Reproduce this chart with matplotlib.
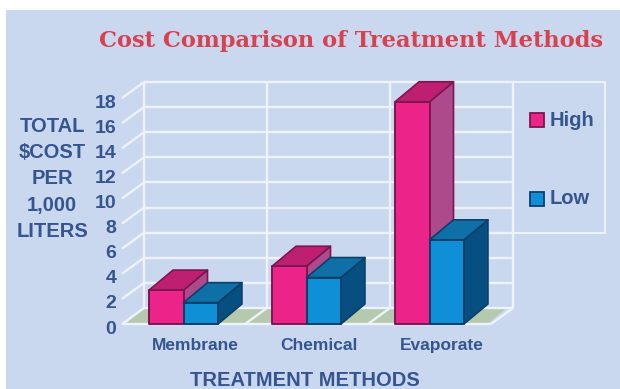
import matplotlib
matplotlib.use("Agg")
import matplotlib.pyplot as plt
from matplotlib.patches import Polygon, Rectangle
from matplotlib.transforms import ScaledTranslation

# Chart data
categories = ["Membrane", "Chemical", "Evaporate"]
high_values = [2.7, 4.6, 17.7]
low_values = [1.7, 3.7, 6.7]
y_ticks = [0, 2, 4, 6, 8, 10, 12, 14, 16, 18]
y_title_lines = ["TOTAL", "$COST", "PER", "1,000", "LITERS"]
series_names = ["High", "Low"]

W, H = 620, 389
BG = "#c9d8ef"
TEXT = "#35558f"
GRID = "#eef3fb"
FLOOR = "#b4c9ad"
HIGH = dict(front="#ec2489", top="#bf1f70", side="#ad4a8b", edge="#7c1650")
LOW = dict(front="#0f8fd6", top="#0f70a8", side="#064f80", edge="#0a3f68")
SANS = "Liberation Sans"

fig = plt.figure(figsize=(W / 100, H / 100), dpi=100, facecolor="white")


def px_box(x0, y0, x1, y1):
    return [x0 / W, 1 - y1 / H, (x1 - x0) / W, (y1 - y0) / H]


fig.patches.append(Rectangle((6 / W, 0), 1, 1 - 10 / H, transform=fig.transFigure,
                             facecolor=BG, edgecolor="none", zorder=-5))

# The axes frame is the front plane of the 3-D box
ax = fig.add_axes(px_box(122, 98, 491, 324))
ax.set_xlim(0, 3)
ax.set_ylim(0, 18)
ax.patch.set_alpha(0)
ax.set_zorder(2)
for s in ax.spines.values():
    s.set_visible(False)

WALL_DX, WALL_DY = 22 / 123, 16 / 12.55
BAR_DX, BAR_DY = 24 / 123, 20 / 12.55
BAR_W = 0.28
LABEL_SHIFT = 0.1


def poly(pts, face, edge="none", lw=0, z=1):
    ax.add_patch(Polygon(pts, closed=True, facecolor=face, edgecolor=edge,
                         linewidth=lw, joinstyle="round", clip_on=False, zorder=z))


def line(xs, ys, z=2, lw=1.7):
    ax.plot(xs, ys, color=GRID, lw=lw, clip_on=False, zorder=z, solid_capstyle="butt")


# Floor
poly([(0.03, 0), (3 - 0.03, 0), (3 + WALL_DX - 0.05, WALL_DY), (WALL_DX, WALL_DY)], FLOOR, z=1)

# Gridlines on the back and side walls
x_back0, x_back1 = WALL_DX, 3 + WALL_DX
for t in y_ticks:
    yb = t + WALL_DY
    line([x_back0, x_back1], [yb, yb])
    line([0, x_back0], [t, yb])
line([x_back0, x_back0], [WALL_DY, 18 + WALL_DY])
line([x_back1, x_back1], [WALL_DY, 18 + WALL_DY])
for i in range(1, 3):
    line([i + WALL_DX, i + WALL_DX], [WALL_DY, 18 + WALL_DY])
    line([i, i + WALL_DX], [0, WALL_DY])
line([0, 3], [0, 0])
line([3, x_back1], [0, WALL_DY])

# Extended back wall that frames the legend
legend_ax = fig.add_axes(px_box(513, 82, 605, 233))
legend_ax.set_xlim(0, 92)
legend_ax.set_ylim(151, 0)
legend_ax.patch.set_alpha(0)
legend_ax.set_xticks([])
legend_ax.set_yticks([])
for s in legend_ax.spines.values():
    s.set_color(GRID)
    s.set_linewidth(1.4)
for name, c, ytop in zip(series_names, (HIGH, LOW), (31, 110)):
    legend_ax.add_patch(Rectangle((17, ytop), 14, 14, facecolor=c["front"],
                                  edgecolor=c["edge"], linewidth=1.3))
    legend_ax.text(37, ytop + 7, name, color=TEXT, fontsize=14.5, fontweight="bold",
                   family=SANS, va="center", ha="left")


def draw_bar(x0, value, c, z):
    x1 = x0 + BAR_W
    dx, dy = BAR_DX, BAR_DY
    poly([(x1, 0), (x1 + dx, dy), (x1 + dx, value + dy), (x1, value)], c["side"], c["edge"], 1.2, z)
    poly([(x0, value), (x1, value), (x1 + dx, value + dy), (x0 + dx, value + dy)], c["top"], c["edge"], 1.2, z)
    poly([(x0, 0), (x1, 0), (x1, value), (x0, value)], c["front"], c["edge"], 1.4, z)


for i, (hi, lo) in enumerate(zip(high_values, low_values)):
    centre = i + 0.5
    draw_bar(centre - BAR_W, hi, HIGH, 5 + i * 2)
    draw_bar(centre, lo, LOW, 6 + i * 2)

# Axis labels: category names sit a little right of their bars, numbers a little low
ax.set_xticks([i + 0.5 + LABEL_SHIFT for i in range(3)], categories)
ax.set_yticks(y_ticks, [str(t) for t in y_ticks])
ax.tick_params(axis="both", length=0)
ax.tick_params(axis="x", pad=10)
ax.tick_params(axis="y", pad=4)
for lab in ax.get_xticklabels():
    lab.set(color=TEXT, fontsize=12.5, fontweight="bold", family=SANS)
down = ScaledTranslation(0, -3 / 100, fig.dpi_scale_trans)
for lab in ax.get_yticklabels():
    lab.set(color=TEXT, fontsize=14, fontweight="bold", family=SANS)
    lab.set_transform(lab.get_transform() + down)

for line_text, ypx in zip(y_title_lines, (127, 153, 179, 205.5, 231.5)):
    fig.text(52 / W, 1 - ypx / H, line_text, color=TEXT, fontsize=14.5, fontweight="bold",
             family=SANS, ha="center", va="center")

fig.text(305 / W, 1 - 380 / H, "TREATMENT METHODS", color=TEXT, fontsize=14.5,
         fontweight="bold", family=SANS, ha="center", va="center")

fig.text(351 / W, 1 - 41 / H, "Cost Comparison of Treatment Methods", color="#d8414f",
         fontsize=16.2, fontweight="bold", family="DejaVu Serif", ha="center", va="center")

fig.savefig("out.png", dpi=100)
